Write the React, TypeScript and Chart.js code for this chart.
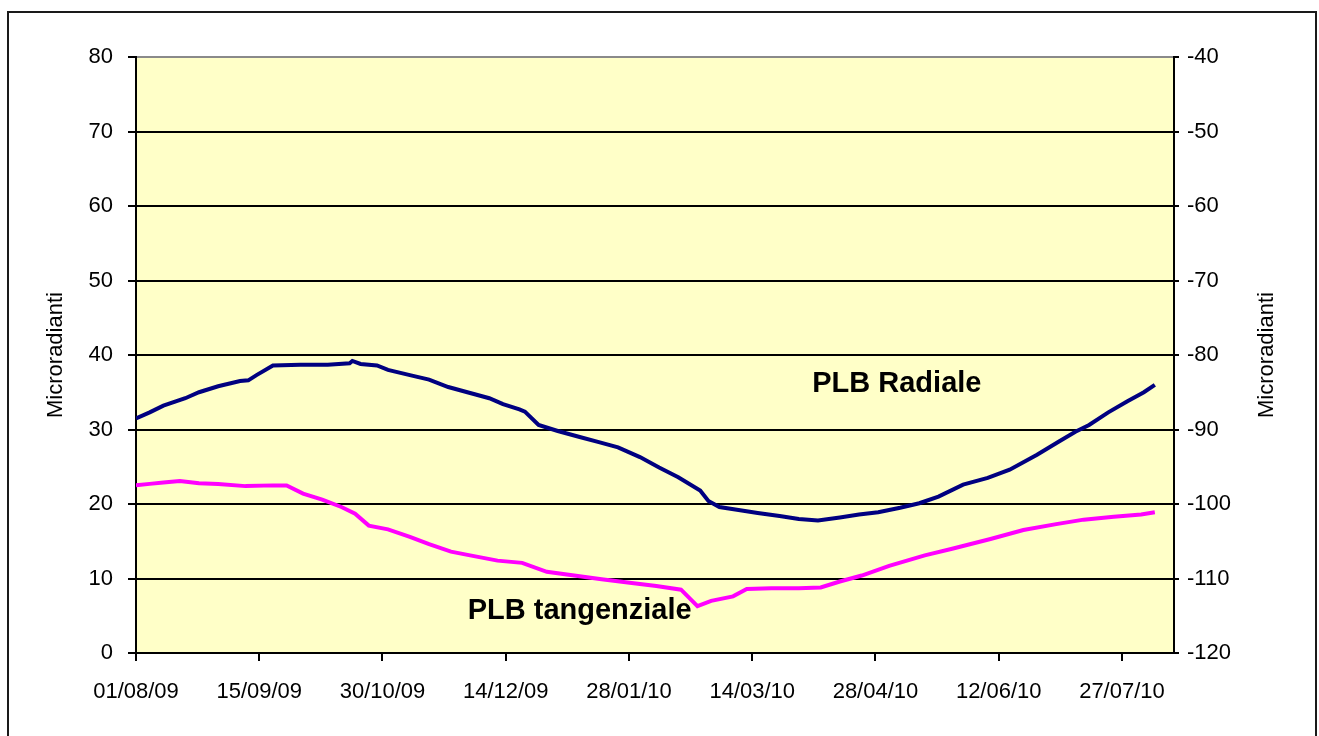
import React, { useEffect, useRef } from "react";
import { Chart, registerables } from "chart.js";

Chart.register(...registerables);

// Days counted from 01/08/09
const tickDays = [0, 45, 90, 135, 180, 225, 270, 315, 360];
const tickLabels = ["01/08/09", "15/09/09", "30/10/09", "14/12/09", "28/01/10", "14/03/10", "28/04/10", "12/06/10", "27/07/10"];

const radialDays = [0, 5, 10, 18, 23, 30, 38, 41, 44, 50, 60, 70, 78, 79, 82, 88, 92, 100, 107, 114, 122, 129, 134, 140, 142, 147, 154, 162, 169, 176, 184, 191, 198, 206, 209, 213, 220, 227, 235, 242, 249, 257, 264, 271, 279, 286, 293, 302, 311, 319, 329, 337, 343, 348, 355, 362, 368, 372];
const radialValues = [31.5, 32.3, 33.2, 34.2, 35.0, 35.8, 36.5, 36.6, 37.3, 38.6, 38.7, 38.7, 38.9, 39.2, 38.8, 38.6, 38.0, 37.3, 36.7, 35.7, 34.9, 34.2, 33.4, 32.7, 32.4, 30.6, 29.8, 29.0, 28.3, 27.6, 26.3, 24.9, 23.6, 21.8, 20.4, 19.6, 19.2, 18.8, 18.4, 18.0, 17.8, 18.2, 18.6, 18.9, 19.5, 20.1, 21.0, 22.6, 23.5, 24.6, 26.6, 28.4, 29.7, 30.6, 32.3, 33.8, 35.0, 36.0];

const tangDays = [0, 5, 10, 16, 23, 30, 40, 50, 55, 61, 68, 75, 80, 85, 92, 100, 107, 115, 122, 132, 141, 150, 160, 170, 181, 190, 199, 205, 210, 218, 223, 232, 242, 250, 257, 265, 275, 288, 298, 312, 324, 336, 346, 357, 367, 372];
const tangValues = [22.5, 22.7, 22.9, 23.1, 22.8, 22.7, 22.4, 22.5, 22.5, 21.4, 20.6, 19.6, 18.7, 17.1, 16.6, 15.6, 14.6, 13.6, 13.1, 12.4, 12.1, 10.9, 10.4, 9.9, 9.4, 9.0, 8.5, 6.3, 7.0, 7.6, 8.6, 8.7, 8.7, 8.8, 9.6, 10.4, 11.7, 13.1, 14.0, 15.3, 16.5, 17.3, 17.9, 18.3, 18.6, 18.9];

const seriesNames = ["PLB Radiale", "PLB tangenziale"];
const axisTitle = "Microradianti";

// label anchor positions (data units: day, left-axis value)
const labelAnchors = [
  { day: 277.8, value: 36.1 },
  { day: 162, value: 5.6 },
];

const FONT = "'Liberation Sans', Arial, sans-serif";
const PLOT_BG = "#FFFFC8";

export default function App() {
  const ref = useRef<HTMLCanvasElement | null>(null);

  useEffect(() => {
    document.body.style.overflow = "hidden";
    const canvas = ref.current!;
    const plugin = {
      id: "decor",
      beforeDraw(chart: any) {
        const { ctx, chartArea } = chart;
        ctx.save();
        ctx.fillStyle = PLOT_BG;
        ctx.fillRect(chartArea.left, chartArea.top, chartArea.right - chartArea.left, chartArea.bottom - chartArea.top);
        ctx.restore();
      },
      afterDatasetsDraw(chart: any) {
        const { ctx, chartArea, scales } = chart;
        ctx.save();
        ctx.fillStyle = "#000";
        ctx.font = `bold 29px ${FONT}`;
        ctx.textAlign = "center";
        ctx.textBaseline = "middle";
        labelAnchors.forEach((a, i) => {
          ctx.fillText(seriesNames[i], scales.x.getPixelForValue(a.day), scales.y.getPixelForValue(a.value));
        });
        const cy = (chartArea.top + chartArea.bottom) / 2;
        ctx.font = `22px ${FONT}`;
        [47, 1258].forEach((cx) => {
          ctx.save();
          ctx.translate(cx, cy);
          ctx.rotate(-Math.PI / 2);
          ctx.fillText(axisTitle, 0, 0);
          ctx.restore();
        });
        ctx.restore();
      },
    };

    const chart = new Chart(canvas, {
      type: "line",
      data: {
        datasets: [
          {
            label: seriesNames[0],
            data: radialDays.map((d, i) => ({ x: d, y: radialValues[i] })),
            borderColor: "#000080",
            borderWidth: 4,
            pointRadius: 0,
            tension: 0,
            yAxisID: "y",
          },
          {
            label: seriesNames[1],
            data: tangDays.map((d, i) => ({ x: d, y: tangValues[i] })),
            borderColor: "#FF00FF",
            borderWidth: 4,
            pointRadius: 0,
            tension: 0,
            yAxisID: "y",
          },
        ],
      },
      options: {
        responsive: false,
        animation: false,
        layout: { padding: { top: 44, left: 0, right: 0, bottom: 0 } },
        plugins: { legend: { display: false }, tooltip: { enabled: false } },
        scales: {
          x: {
            type: "linear",
            min: 0,
            max: 379,
            afterBuildTicks: (s: any) => {
              s.ticks = tickDays.map((v) => ({ value: v }));
            },
            afterFit: (s: any) => {
              s.height = 83;
            },
            grid: { drawOnChartArea: false, drawTicks: true, tickLength: 8, color: "#000", tickColor: "#000", lineWidth: 2 },
            border: { color: "#000", width: 2 },
            ticks: {
              color: "#000",
              font: { family: FONT, size: 22 },
              padding: 18,
              maxRotation: 0,
              autoSkip: false,
              callback: (_v: any, i: number) => tickLabels[i],
            },
          },
          y: {
            position: "left",
            min: 0,
            max: 80,
            afterFit: (s: any) => {
              s.width = 127;
            },
            grid: {
              color: (c: any) => (c.tick && c.tick.value === 80 ? "#8a8a8a" : "#000"),
              lineWidth: 2,
              tickLength: 8,
              tickColor: "#000",
            },
            border: { color: "#000", width: 2 },
            ticks: { stepSize: 10, color: "#000", font: { family: FONT, size: 22 }, padding: 15 },
          },
          y2: {
            position: "right",
            display: true,
            min: -120,
            max: -40,
            afterFit: (s: any) => {
              s.width = 141;
            },
            grid: { drawOnChartArea: false, tickLength: 5, tickColor: "#000", lineWidth: 2 },
            border: { color: "#000", width: 2 },
            ticks: { stepSize: 10, color: "#000", font: { family: FONT, size: 22 }, padding: 8 },
          },
        },
      },
      plugins: [plugin],
    } as any);
    return () => chart.destroy();
  }, []);

  return (
    <div
      style={{
        position: "absolute",
        left: 7,
        top: 11,
        width: 1310,
        height: 725,
        boxSizing: "border-box",
        border: "2px solid #1a1a1a",
        borderBottom: "none",
        background: "#fff",
      }}
    >
      <canvas ref={ref} width={1306} height={723} style={{ display: "block", width: 1306, height: 723 }} />
    </div>
  );
}
